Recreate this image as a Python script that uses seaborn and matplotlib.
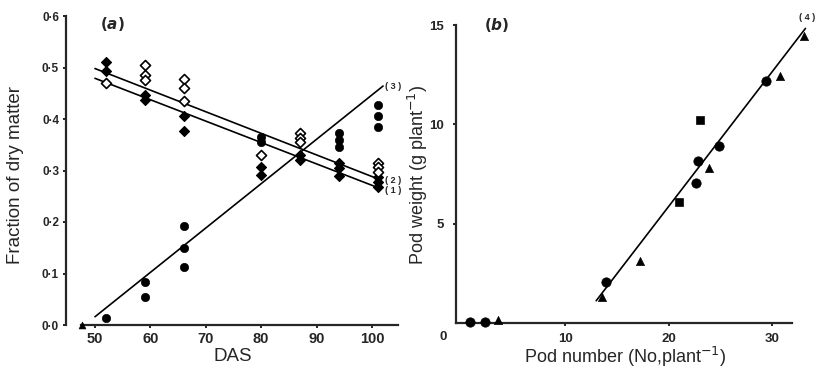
import numpy as np
import pandas as pd
import matplotlib
matplotlib.use("Agg")
import matplotlib.pyplot as plt
from matplotlib.ticker import FuncFormatter
import seaborn as sns

# ---- panel (a): fraction of dry matter vs DAS ----
# (1) filled diamonds
leaf_das = [52, 52, 59, 59, 66, 66, 80, 80, 87, 87, 94, 94, 94, 101, 101, 101]
leaf_frac = [0.510, 0.494, 0.447, 0.437, 0.406, 0.377, 0.307, 0.291, 0.330, 0.320,
             0.315, 0.305, 0.289, 0.287, 0.277, 0.268]
# (2) open diamonds
stem_das = [52, 59, 59, 59, 66, 66, 66, 80, 87, 87, 87, 101, 101, 101]
stem_frac = [0.470, 0.505, 0.485, 0.476, 0.478, 0.461, 0.434, 0.330, 0.373, 0.363,
             0.355, 0.315, 0.307, 0.297]
# (3) filled circles
pod_das = [52, 59, 59, 66, 66, 66, 80, 80, 94, 94, 94, 101, 101, 101]
pod_frac = [0.013, 0.084, 0.054, 0.192, 0.149, 0.113, 0.365, 0.355, 0.373, 0.359,
            0.346, 0.427, 0.406, 0.384]
zero_das = [47.6]
zero_frac = [0.0]

# fitted lines (end points)
line1_das = [50, 101.5]
line1_frac = [0.479, 0.265]
line2_das = [50, 101.5]
line2_frac = [0.498, 0.282]
line3_das = [50, 102.0]
line3_frac = [0.016, 0.464]

# ---- panel (b): pod weight vs pod number ----
circ_n = [0.8, 2.3, 13.9, 22.6, 22.8, 24.9, 29.4]
circ_w = [0.03, 0.03, 2.04, 7.06, 8.14, 8.93, 12.16]
sq_n = [21.0, 23.0]
sq_w = [6.1, 10.23]
tri_n = [3.5, 13.6, 17.2, 23.9, 30.7, 33.1]
tri_w = [0.15, 1.32, 3.1, 7.8, 12.44, 14.46]
line4_n = [13.0, 33.2]
line4_w = [1.12, 14.83]

sns.set_theme(style="ticks")
plt.rcParams["font.family"] = ["Liberation Sans", "DejaVu Sans"]

fig = plt.figure(figsize=(8.25, 3.71), dpi=100)
ax_a = fig.add_axes([66 / 825, 46 / 371, 332 / 825, 309 / 371])
ax_b = fig.add_axes([456 / 825, 48 / 371, 336 / 825, 298 / 371])

k = "black"
lw = 1.2

sns.scatterplot(x=leaf_das, y=leaf_frac, marker="D", s=26, color=k, edgecolor=k,
                linewidth=0.8, ax=ax_a, zorder=3, clip_on=False)
sns.scatterplot(x=stem_das, y=stem_frac, marker="D", s=26, facecolor="white",
                edgecolor=k, linewidth=1.2, ax=ax_a, zorder=3, clip_on=False)
sns.scatterplot(x=pod_das, y=pod_frac, marker="o", s=36, color=k, edgecolor=k,
                ax=ax_a, zorder=3, clip_on=False)
sns.scatterplot(x=zero_das, y=zero_frac, marker="^", s=25, color=k, edgecolor=k,
                ax=ax_a, zorder=3, clip_on=False)
for xs, ys in [(line1_das, line1_frac), (line2_das, line2_frac), (line3_das, line3_frac)]:
    sns.lineplot(x=xs, y=ys, color=k, linewidth=lw, ax=ax_a, clip_on=False)

ax_a.set_xlim(44.77, 104.7)
ax_a.set_ylim(0, 0.6)
ax_a.set_xticks([50, 60, 70, 80, 90, 100])
ax_a.set_yticks([0, 0.1, 0.2, 0.3, 0.4, 0.5, 0.6])
ax_a.yaxis.set_major_formatter(FuncFormatter(lambda v, p: f"{v:.1f}".replace(".", "\u00b7")))
ax_a.spines["bottom"].set_bounds(47.4, 104.7)
ax_a.text(102.3, 0.464, "( 3 )", fontsize=6.5, fontweight="bold", va="center", ha="left")
ax_a.text(102.3, 0.280, "( 2 )", fontsize=6.5, fontweight="bold", va="center", ha="left")
ax_a.text(102.3, 0.262, "( 1 )", fontsize=6.5, fontweight="bold", va="center", ha="left")
ax_a.text(50.9, 0.584, r"$\mathbf{(}\boldsymbol{a}\mathbf{)}$", fontsize=11,
          va="center", ha="left")
ax_a.set_xlabel("DAS", fontsize=13.5)
ax_a.set_ylabel("Fraction of dry matter", fontsize=13.5)
ax_a.xaxis.set_label_coords(0.503, -0.074)
ax_a.yaxis.set_label_coords(-0.127, 0.485)

sns.scatterplot(x=circ_n, y=circ_w, marker="o", s=45, color=k, edgecolor=k,
                ax=ax_b, zorder=3, clip_on=False)
sns.scatterplot(x=sq_n, y=sq_w, marker="s", s=35, color=k, edgecolor=k,
                ax=ax_b, zorder=3, clip_on=False)
sns.scatterplot(x=tri_n, y=tri_w, marker="^", s=35, color=k, edgecolor=k,
                ax=ax_b, zorder=3, clip_on=False)
sns.lineplot(x=line4_n, y=line4_w, color=k, linewidth=lw, ax=ax_b, clip_on=False)

ax_b.set_xlim(-0.53, 31.9)
ax_b.set_ylim(0, 15)
ax_b.set_xticks([10, 20, 30])
ax_b.set_yticks([5, 10, 15])
ax_b.text(-1.8, -0.7, "0", fontsize=9.5, fontweight="bold", va="center", ha="center")
ax_b.text(33.4, 15.4, "( 4 )", fontsize=6.5, fontweight="bold", va="center", ha="center")
ax_b.text(2.2, 15.0, r"$\mathbf{(}\boldsymbol{b}\mathbf{)}$", fontsize=11,
          va="center", ha="left")
ax_b.set_xlabel("Pod number (No,plant$^{-1}$)", fontsize=13)
ax_b.set_ylabel("Pod weight (g plant$^{-1}$)", fontsize=13)
ax_b.xaxis.set_label_coords(0.503, -0.072)
ax_b.yaxis.set_label_coords(-0.078, 0.497)

for ax in (ax_a, ax_b):
    sns.despine(ax=ax)
    ax.spines["left"].set_linewidth(1.6)
    ax.spines["bottom"].set_linewidth(1.6)
    ax.tick_params(axis="both", length=2, width=1.2, direction="out", color=k)
    for lab in ax.get_xticklabels() + ax.get_yticklabels():
        lab.set_fontweight("bold")
ax_a.tick_params(axis="y", labelsize=8.5, pad=3)
ax_a.tick_params(axis="x", labelsize=10.5, pad=3)
ax_b.tick_params(axis="y", labelsize=9.5, pad=7)
ax_b.tick_params(axis="x", labelsize=9.5, pad=5)

fig.savefig("out.png", dpi=100)
